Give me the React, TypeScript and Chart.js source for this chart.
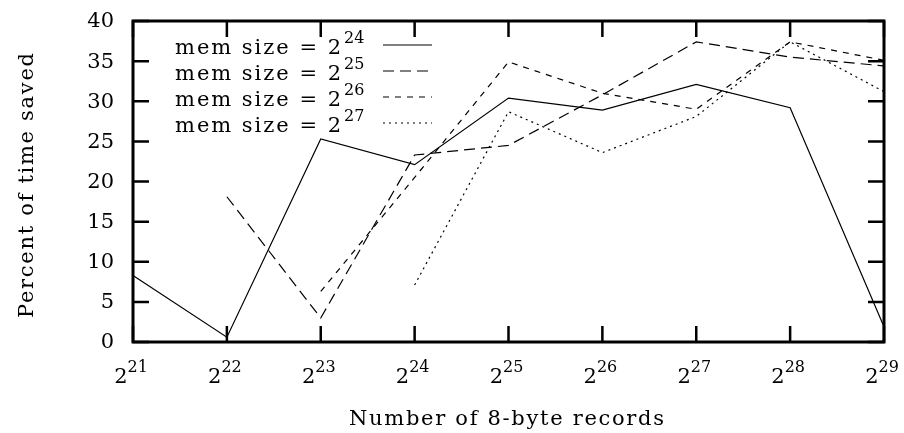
import React, { useEffect, useRef } from 'react';
import { Chart, registerables } from 'chart.js';

Chart.register(...registerables);

// x categories: exponents of 2 for "Number of 8-byte records"
const xExponents = ['21', '22', '23', '24', '25', '26', '27', '28', '29'];
const yTicks = [0, 5, 10, 15, 20, 25, 30, 35, 40];
// legend: mem size exponents
const memExponents = ['24', '25', '26', '27'];

const mem24 = [8.3, 0.6, 25.3, 22.1, 30.4, 28.9, 32.1, 29.2, 1.9];
const mem25 = [null, 18.1, 3.0, 23.3, 24.5, 30.8, 37.4, 35.5, 34.4];
const mem26 = [null, null, 6.3, 20.5, 34.9, 31.0, 29.0, 37.4, 35.1];
const mem27 = [null, null, null, 7.1, 28.7, 23.6, 28.1, 37.4, 31.2];

const xTitle = 'Number of 8-byte records';
const yTitle = 'Percent of time saved';
const legendPrefix = 'mem size = 2';

const FONT = 'DejaVu Serif';

function drawSpaced(ctx: CanvasRenderingContext2D, text: string, x: number, y: number, target: number) {
  (ctx as any).letterSpacing = '0px';
  const w = ctx.measureText(text).width;
  const n = Array.from(text).length;
  const sp = n > 1 ? (target - w) / (n - 1) : 0;
  (ctx as any).letterSpacing = sp + 'px';
  ctx.textAlign = 'left';
  ctx.fillText(text, x, y);
  (ctx as any).letterSpacing = '0px';
}

const framePlugin = {
  id: 'gnuplotFrame',
  afterDraw(chart: any) {
    const ctx: CanvasRenderingContext2D = chart.ctx;
    const { left, right, top, bottom } = chart.chartArea;
    const xs = chart.scales.x;
    const ys = chart.scales.y;
    ctx.save();
    ctx.strokeStyle = '#000';
    ctx.fillStyle = '#000';
    ctx.setLineDash([]);

    // ticks
    ctx.lineWidth = 2.5;
    const tl = 16;
    yTicks.forEach((v) => {
      const py = ys.getPixelForValue(v);
      ctx.beginPath();
      ctx.moveTo(left, py);
      ctx.lineTo(left + tl, py);
      ctx.moveTo(right, py);
      ctx.lineTo(right - tl, py);
      ctx.stroke();
    });
    xExponents.forEach((_, i) => {
      const px = xs.getPixelForValue(i);
      ctx.beginPath();
      ctx.moveTo(px, bottom);
      ctx.lineTo(px, bottom - tl);
      ctx.moveTo(px, top);
      ctx.lineTo(px, top + tl);
      ctx.stroke();
    });

    // frame
    ctx.lineWidth = 3;
    ctx.strokeRect(left, top, right - left, bottom - top);

    // y tick labels
    ctx.font = `21px ${FONT}`;
    ctx.textAlign = 'right';
    ctx.textBaseline = 'middle';
    yTicks.forEach((v) => {
      const py = ys.getPixelForValue(v);
      ctx.fillText(String(v), left - 19, py + 1);
    });

    // x tick labels 2^n
    ctx.textBaseline = 'alphabetic';
    ctx.textAlign = 'left';
    xExponents.forEach((e, i) => {
      const px = xs.getPixelForValue(i);
      ctx.font = `21px ${FONT}`;
      const w2 = ctx.measureText('2').width;
      ctx.font = `16px ${FONT}`;
      const ws = ctx.measureText(e).width;
      const start = px - (w2 + ws) / 2 - 2;
      const base = bottom + 41;
      ctx.font = `21px ${FONT}`;
      ctx.fillText('2', start, base);
      ctx.font = `16px ${FONT}`;
      ctx.fillText(e, start + w2, base - 11);
    });

    // axis titles
    ctx.font = `21px ${FONT}`;
    const xw = 315;
    drawSpaced(ctx, xTitle, (left + right) / 2 - 2 - xw / 2, bottom + 83, xw);
    ctx.save();
    ctx.translate(33, (top + bottom) / 2 + 4);
    ctx.rotate(-Math.PI / 2);
    const yw = 265;
    drawSpaced(ctx, yTitle, -yw / 2, 0, yw);
    ctx.restore();

    // legend
    chart.data.datasets.forEach((ds: any, i: number) => {
      const base = top + 33 + i * 26;
      ctx.font = `21px ${FONT}`;
      ctx.textBaseline = 'alphabetic';
      drawSpaced(ctx, legendPrefix, left + 42, base, 166);
      ctx.font = `16px ${FONT}`;
      ctx.textAlign = 'left';
      ctx.fillText(memExponents[i], left + 211, base - 11);
      ctx.lineWidth = 1.2;
      ctx.setLineDash(ds.borderDash || []);
      ctx.beginPath();
      ctx.moveTo(left + 250, base - 9);
      ctx.lineTo(left + 299, base - 9);
      ctx.stroke();
      ctx.setLineDash([]);
    });

    ctx.restore();
  },
};

export default function App() {
  const ref = useRef<HTMLCanvasElement>(null);
  useEffect(() => {
    const mk = (data: (number | null)[], dash: number[]) => ({
      data,
      borderColor: '#000',
      backgroundColor: '#000',
      borderWidth: 1.2,
      borderDash: dash,
      pointRadius: 0,
      tension: 0,
      spanGaps: false,
      fill: false,
    });
    const chart = new Chart(ref.current as HTMLCanvasElement, {
      type: 'line',
      data: {
        labels: xExponents,
        datasets: [
          mk(mem24, []),
          mk(mem25, [11, 6]),
          mk(mem26, [6, 6]),
          mk(mem27, [2, 4]),
        ],
      },
      options: {
        responsive: false,
        animation: false,
        devicePixelRatio: 1,
        layout: { padding: { left: 133, right: 20, top: 21, bottom: 91 } },
        plugins: { legend: { display: false }, tooltip: { enabled: false }, title: { display: false } },
        scales: {
          x: { type: 'category', display: false, offset: false },
          y: { type: 'linear', display: false, min: 0, max: 40 },
        },
      },
      plugins: [framePlugin],
    } as any);
    return () => chart.destroy();
  }, []);
  return (
    <div style={{ position: 'fixed', left: 0, top: 0, width: 904, height: 433, background: '#fff' }}>
      <canvas ref={ref} width={904} height={433} />
    </div>
  );
}
